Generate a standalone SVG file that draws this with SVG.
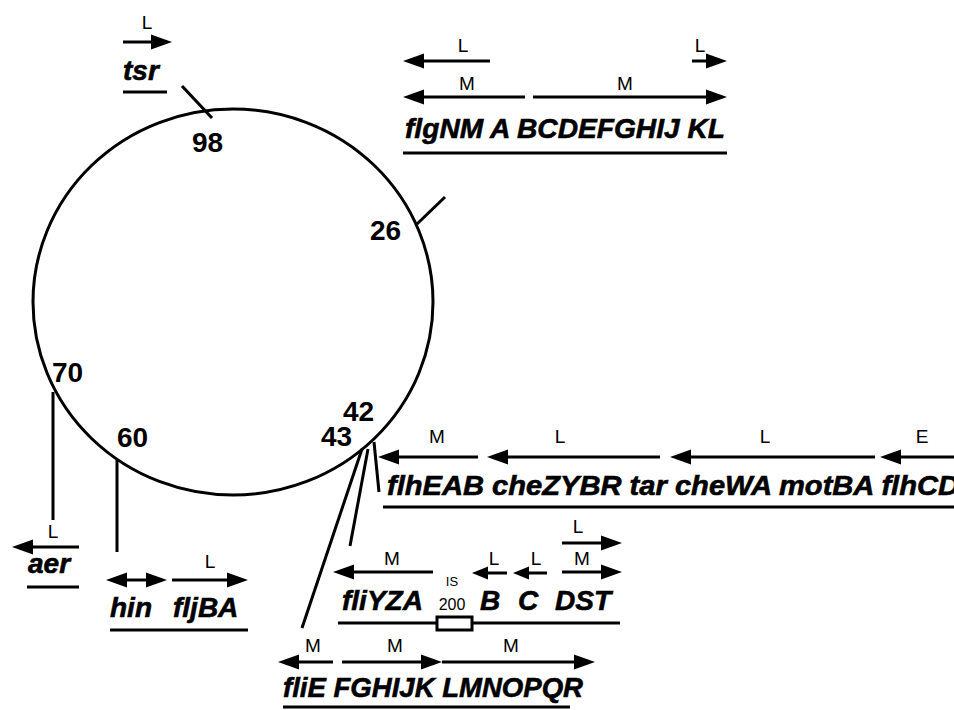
<svg xmlns="http://www.w3.org/2000/svg" width="954" height="710" viewBox="0 0 954 710">
<style>
.ln{stroke:#000;stroke-width:3;fill:none}
.ar{stroke:#000;stroke-width:3;fill:none;marker-end:url(#h)}
.sa{stroke:#000;stroke-width:3;fill:none;marker-end:url(#hs)}
.gene{font-family:"Liberation Sans",Arial,sans-serif;font-weight:bold;font-style:italic;font-size:28px;fill:#000;stroke:#000;stroke-width:0.6}
.num{font-family:"Liberation Sans",Arial,sans-serif;font-weight:bold;font-size:28px;fill:#000}
.lab{font-family:"Liberation Sans",Arial,sans-serif;font-size:19px;fill:#000;text-anchor:middle}
</style>
<defs>
<marker id="h" markerUnits="userSpaceOnUse" viewBox="0 -8 21 16" refX="0" refY="0" markerWidth="21" markerHeight="16" orient="auto-start-reverse" overflow="visible"><path d="M0,-7.5 L21,0 L0,7.5 z" fill="#000"/></marker>
<marker id="hs" markerUnits="userSpaceOnUse" viewBox="0 -7 16 14" refX="0" refY="0" markerWidth="16" markerHeight="14" orient="auto-start-reverse" overflow="visible"><path d="M0,-6.5 L16,0 L0,6.5 z" fill="#000"/></marker>
</defs>
<rect width="954" height="710" fill="#fff"/>

<g id="chromosome">
<ellipse cx="233" cy="302" rx="200" ry="193" class="ln"/>
<text class="num" x="192" y="152">98</text>
<text class="num" x="370" y="240">26</text>
<text class="num" x="52" y="382">70</text>
<text class="num" x="117" y="447">60</text>
<text class="num" x="343" y="421">42</text>
<text class="num" x="321" y="446">43</text>
</g>

<g id="connectors">
<line class="ln" x1="182" y1="86" x2="212" y2="118"/>
<line class="ln" x1="417" y1="224" x2="445" y2="197"/>
<line class="ln" x1="53" y1="392" x2="53" y2="520"/>
<line class="ln" x1="117" y1="460" x2="117" y2="552"/>
<line class="ln" x1="374" y1="442" x2="379" y2="492"/>
<line class="ln" x1="368" y1="449" x2="350" y2="546"/>
<line class="ln" x1="362" y1="449" x2="302" y2="628"/>
</g>

<g id="tsr">
<text class="lab" x="147" y="29">L</text>
<line class="ar" x1="123" y1="42" x2="151" y2="42"/>
<text class="gene" x="123" y="80">tsr</text>
<line class="ln" x1="123" y1="92" x2="167" y2="92"/>
</g>

<g id="flg">
<text class="lab" x="463" y="52">L</text>
<line class="ar" x1="490" y1="61" x2="424" y2="61"/>
<text class="lab" x="700" y="52">L</text>
<line class="ar" x1="692" y1="61" x2="706" y2="61"/>
<text class="lab" x="467" y="90">M</text>
<line class="ar" x1="525" y1="97" x2="424" y2="97"/>
<text class="lab" x="625" y="90">M</text>
<line class="ar" x1="533" y1="97" x2="706" y2="97"/>
<text class="gene" x="405" y="138" textLength="320" lengthAdjust="spacingAndGlyphs">flgNM A BCDEFGHIJ KL</text>
<line class="ln" x1="403" y1="153" x2="727" y2="153"/>
</g>

<g id="flh">
<text class="lab" x="437" y="443">M</text>
<line class="ar" x1="478" y1="457" x2="399" y2="457"/>
<text class="lab" x="560" y="443">L</text>
<line class="ar" x1="660" y1="457" x2="508" y2="457"/>
<text class="lab" x="765" y="443">L</text>
<line class="ar" x1="875" y1="457" x2="691" y2="457"/>
<text class="lab" x="922" y="443">E</text>
<line class="ar" x1="960" y1="457" x2="901" y2="457"/>
<text class="gene" x="387" y="495" textLength="572" lengthAdjust="spacingAndGlyphs">flhEAB cheZYBR tar cheWA motBA flhCD</text>
<line class="ln" x1="383" y1="507" x2="954" y2="507"/>
</g>

<g id="aer">
<text class="lab" x="53" y="538">L</text>
<line class="ar" x1="79" y1="547" x2="33" y2="547"/>
<text class="gene" x="28" y="573">aer</text>
<line class="ln" x1="27" y1="587" x2="79" y2="587"/>
</g>

<g id="hin">
<line class="ln" x1="127" y1="580" x2="146" y2="580" marker-start="url(#h)" marker-end="url(#h)"/>
<text class="lab" x="210" y="568">L</text>
<line class="ar" x1="172" y1="580" x2="227" y2="580"/>
<text class="gene" y="617"><tspan x="110">hin</tspan><tspan x="173">fljBA</tspan></text>
<line class="ln" x1="110" y1="630" x2="248" y2="630"/>
</g>

<g id="fli-yza">
<text class="lab" x="578" y="533">L</text>
<line class="ar" x1="562" y1="543" x2="601" y2="543"/>
<text class="lab" x="392" y="565">M</text>
<line class="ar" x1="433" y1="572" x2="354" y2="572"/>
<text class="lab" x="494" y="565">L</text>
<line class="sa" x1="507" y1="573" x2="488" y2="573"/>
<text class="lab" x="536" y="565">L</text>
<line class="sa" x1="547" y1="573" x2="529" y2="573"/>
<text class="lab" x="582" y="565">M</text>
<line class="ar" x1="562" y1="572" x2="601" y2="572"/>
<text class="gene" x="342" y="610">fliYZA</text>
<text x="452" y="586" font-family="Liberation Sans,Arial,sans-serif" font-size="13" text-anchor="middle">IS</text>
<text x="452" y="610" font-family="Liberation Sans,Arial,sans-serif" font-size="16" text-anchor="middle">200</text>
<text class="gene" x="480" y="610">B</text>
<text class="gene" x="518" y="610">C</text>
<text class="gene" x="555" y="610">DST</text>
<line class="ln" x1="338" y1="623" x2="620" y2="623"/>
<rect x="437" y="617" width="35" height="13" fill="#fff" stroke="#000" stroke-width="3"/>
</g>

<g id="fli-e">
<text class="lab" x="313" y="652">M</text>
<line class="ar" x1="333" y1="662" x2="299" y2="662"/>
<text class="lab" x="395" y="652">M</text>
<line class="ar" x1="342" y1="662" x2="421" y2="662"/>
<text class="lab" x="511" y="652">M</text>
<line class="ar" x1="442" y1="662" x2="574" y2="662"/>
<text class="gene" x="283" y="697" textLength="300" lengthAdjust="spacingAndGlyphs">fliE FGHIJK LMNOPQR</text>
<line class="ln" x1="283" y1="707" x2="570" y2="707"/>
</g>
</svg>
